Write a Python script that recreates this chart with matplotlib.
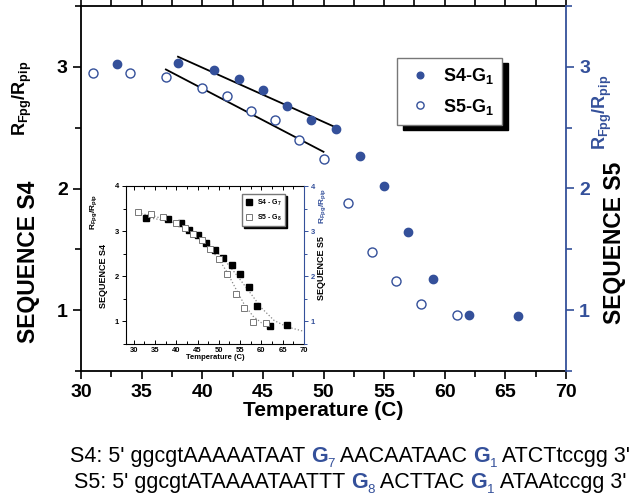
import matplotlib
matplotlib.use("Agg")
import matplotlib.pyplot as plt
from matplotlib.ticker import MultipleLocator
import numpy as np

plt.rcParams['font.family'] = ['Liberation Sans', 'DejaVu Sans']
plt.rcParams['font.weight'] = 'bold'
plt.rcParams['mathtext.fontset'] = 'custom'
plt.rcParams['mathtext.bf'] = 'Liberation Sans:bold'
plt.rcParams['mathtext.rm'] = 'Liberation Sans:bold'
plt.rcParams['mathtext.default'] = 'bf'

BLUE = '#34509a'

# main panel data
t_s4 = [33, 38, 41, 43, 45, 47, 49, 51, 53, 55, 57, 59, 62, 66]
r_s4 = [3.02, 3.03, 2.97, 2.90, 2.81, 2.68, 2.56, 2.49, 2.27, 2.02, 1.64, 1.26, 0.96, 0.95]
t_s5 = [31, 34, 37, 40, 42, 44, 46, 48, 50, 52, 54, 56, 58, 61]
r_s5 = [2.95, 2.95, 2.92, 2.83, 2.76, 2.64, 2.56, 2.40, 2.24, 1.88, 1.48, 1.24, 1.05, 0.96]

# inset data
ti_s4 = [33, 38, 41, 43, 45, 47, 49, 51, 53, 55, 57, 59, 62, 66]
ri_s4 = [3.29, 3.26, 3.17, 3.02, 2.91, 2.74, 2.59, 2.41, 2.24, 2.05, 1.76, 1.34, 0.90, 0.91]
ti_s5 = [31, 34, 37, 40, 42, 44, 46, 48, 50, 52, 54, 56, 58, 61]
ri_s5 = [3.42, 3.38, 3.31, 3.18, 3.08, 2.93, 2.81, 2.61, 2.38, 2.05, 1.61, 1.29, 0.98, 0.96]
# dotted fit curves in the inset
tc_s4 = [33, 36, 39, 42, 45, 48, 51, 54, 57, 60, 63, 66, 70]
rc_s4 = [3.30, 3.26, 3.20, 3.09, 2.92, 2.68, 2.40, 2.05, 1.68, 1.30, 1.02, 0.88, 0.78]
tc_s5 = [31, 35, 40, 44, 47, 50, 52, 54, 56, 58, 60, 62]
rc_s5 = [3.40, 3.33, 3.17, 2.95, 2.72, 2.38, 2.08, 1.72, 1.37, 1.12, 0.97, 0.90]

seq_s4 = [("S4: 5' ggcgtAAAAATAAT ", 'n'), ("G", 'g'), ("7", 's'), (" AACAATAAC ", 'n'),
          ("G", 'g'), ("1", 's'), (" ATCTtccgg 3'", 'n')]
seq_s5 = [("S5: 5' ggcgtATAAAATAATTT ", 'n'), ("G", 'g'), ("8", 's'), (" ACTTAC ", 'n'),
          ("G", 'g'), ("1", 's'), (" ATAAtccgg 3'", 'n')]

fig = plt.figure(figsize=(6.4, 5.03), dpi=100)
ax = fig.add_axes([81 / 640, 1 - 371 / 503, 485 / 640, 365 / 503])

ax.plot(t_s4, r_s4, 'o', color=BLUE, ms=6, label='S4-G$_1$', zorder=3)
ax.plot(t_s5, r_s5, 'o', mfc='white', mec=BLUE, mew=1.0, ms=6.5, label='S5-G$_1$', zorder=3)

# linear fits over the middle region
for tt, rr, i0, i1 in [(t_s4, r_s4, 1, 8), (t_s5, r_s5, 2, 9)]:
    x = np.array(tt[i0:i1], float)
    p = np.polyfit(x, rr[i0:i1], 1)
    xx = np.array([x[0], x[-1]])
    ax.plot(xx, np.polyval(p, xx), 'k-', lw=1.3, zorder=2)

ax.set_xlim(30, 70)
ax.set_ylim(0.5, 3.5)
ax.xaxis.set_major_locator(MultipleLocator(5))
ax.xaxis.set_minor_locator(MultipleLocator(2.5))
ax.yaxis.set_major_locator(MultipleLocator(1))
ax.yaxis.set_minor_locator(MultipleLocator(0.5))
ax.tick_params(axis='x', which='both', top=True, direction='out', labelsize=14, width=1.2)
ax.tick_params(axis='x', which='major', length=6)
ax.tick_params(axis='x', which='minor', length=4)
ax.tick_params(axis='y', which='both', direction='out', labelsize=14, width=1.2)
ax.tick_params(axis='y', which='major', length=6)
ax.tick_params(axis='y', which='minor', length=4)
ax.set_xlabel('Temperature (C)', fontsize=15, fontweight='bold', labelpad=0)
for s in ax.spines.values():
    s.set_linewidth(1.3)
ax.spines['right'].set_visible(False)

ax2 = ax.twinx()
ax2.set_ylim(0.5, 3.5)
ax2.yaxis.set_major_locator(MultipleLocator(1))
ax2.yaxis.set_minor_locator(MultipleLocator(0.5))
ax2.tick_params(axis='y', which='both', colors=BLUE, labelsize=14, width=1.2)
ax2.tick_params(axis='y', which='major', length=6)
ax2.tick_params(axis='y', which='minor', length=4)
for k in ['left', 'top', 'bottom']:
    ax2.spines[k].set_visible(False)
ax2.spines['right'].set_color(BLUE)
ax2.spines['right'].set_linewidth(1.3)

h, l = ax.get_legend_handles_labels()
ax2.legend(h, l, loc='upper left', bbox_to_anchor=(0.652, 0.858), borderaxespad=0,
           fontsize=13, frameon=True, fancybox=False, edgecolor='#777777', framealpha=1,
           borderpad=0.45, labelspacing=0.6, handletextpad=0.5, handlelength=1.6,
           shadow={'ox': 4, 'oy': -4, 'color': 'black', 'alpha': 1}, markerscale=0.8)

fig.text(22 / 640, 1 - 98 / 503, r'$R_{Fpg}/R_{pip}$', rotation=90, fontsize=13,
         ha='center', va='center')
fig.text(29 / 640, 1 - 262 / 503, 'SEQUENCE S4', rotation=90, fontsize=16.5,
         fontweight='bold', ha='center', va='center')
fig.text(602 / 640, 1 - 112 / 503, r'$R_{Fpg}/R_{pip}$', rotation=90, fontsize=13,
         color=BLUE, ha='center', va='center')
fig.text(614 / 640, 1 - 243 / 503, 'SEQUENCE S5', rotation=90, fontsize=16.5,
         fontweight='bold', ha='center', va='center')

# inset
axi = fig.add_axes([126 / 640, 1 - 344 / 503, 178 / 640, 158 / 503])
axi.plot(tc_s4, rc_s4, ':', color='#888888', lw=0.9)
axi.plot(tc_s5, rc_s5, ':', color='#888888', lw=0.9)
axi.plot(ti_s4, ri_s4, 's', color='black', ms=4, label='S4 - G$_7$', zorder=3)
axi.plot(ti_s5, ri_s5, 's', mfc='white', mec='#777777', mew=0.7, ms=4.5, label='S5 - G$_8$', zorder=3)
axi.set_xlim(28.2, 70)
axi.set_ylim(0.5, 4)
axi.xaxis.set_major_locator(MultipleLocator(5))
axi.xaxis.set_minor_locator(MultipleLocator(2.5))
axi.yaxis.set_major_locator(MultipleLocator(1))
axi.yaxis.set_minor_locator(MultipleLocator(0.5))
axi.tick_params(axis='both', which='both', labelsize=5.5, width=0.7, pad=2)
axi.tick_params(axis='x', which='both', top=True, direction='in')
axi.tick_params(which='major', length=3)
axi.tick_params(which='minor', length=2)
axi.set_xlabel('Temperature (C)', fontsize=5.5, fontweight='bold', labelpad=0)
for s in axi.spines.values():
    s.set_linewidth(0.8)
axi.spines['right'].set_visible(False)
axi.legend(loc='upper left', bbox_to_anchor=(116 / 178, 0.95), borderaxespad=0,
           fontsize=5, frameon=True, fancybox=False, edgecolor='#777777', framealpha=1,
           handlelength=0.9, handletextpad=0.7, borderpad=0.5, labelspacing=0.7,
           shadow={'ox': 1.5, 'oy': -1.5, 'color': 'black', 'alpha': 1})

axi2 = axi.twinx()
axi2.set_ylim(0.5, 4)
axi2.yaxis.set_major_locator(MultipleLocator(1))
axi2.yaxis.set_minor_locator(MultipleLocator(0.5))
axi2.tick_params(axis='y', which='both', colors=BLUE, labelsize=5.5, width=0.7, pad=2)
axi2.tick_params(which='major', length=3)
axi2.tick_params(which='minor', length=2)
for k in ['left', 'top', 'bottom']:
    axi2.spines[k].set_visible(False)
axi2.spines['right'].set_color(BLUE)
axi2.spines['right'].set_linewidth(0.8)

fig.text(94 / 640, 1 - 212 / 503, r'$R_{Fpg}/R_{pip}$', rotation=90, fontsize=6,
         ha='center', va='center')
fig.text(104 / 640, 1 - 276 / 503, 'SEQUENCE S4', rotation=90, fontsize=6.5,
         fontweight='bold', ha='center', va='center')
fig.text(323 / 640, 1 - 206 / 503, r'$R_{Fpg}/R_{pip}$', rotation=90, fontsize=6,
         color=BLUE, ha='center', va='center')
fig.text(322 / 640, 1 - 268 / 503, 'SEQUENCE S5', rotation=90, fontsize=6.5,
         fontweight='bold', ha='center', va='center')

# sequence lines below the chart
renderer = fig.canvas.get_renderer()


def seq_line(parts, ybase, center, size=13):
    texts = []
    for txt, kind in parts:
        if kind == 'n':
            t = fig.text(0, ybase, txt, fontsize=size, fontweight='normal', va='baseline')
        elif kind == 'g':
            t = fig.text(0, ybase, txt, fontsize=size, fontweight='bold', color=BLUE, va='baseline')
        else:
            t = fig.text(0, ybase - 5 / 503, txt, fontsize=size * 0.62, fontweight='normal',
                         color=BLUE, va='baseline')
        texts.append(t)
    widths = [t.get_window_extent(renderer).width / fig.bbox.width for t in texts]
    x = center - sum(widths) / 2
    for t, w in zip(texts, widths):
        t.set_x(x)
        x += w


seq_line(seq_s4, 1 - 462 / 503, 350 / 640, size=15.5)
seq_line(seq_s5, 1 - 488 / 503, 350 / 640, size=15.5)

fig.savefig('out.png', dpi=100)
